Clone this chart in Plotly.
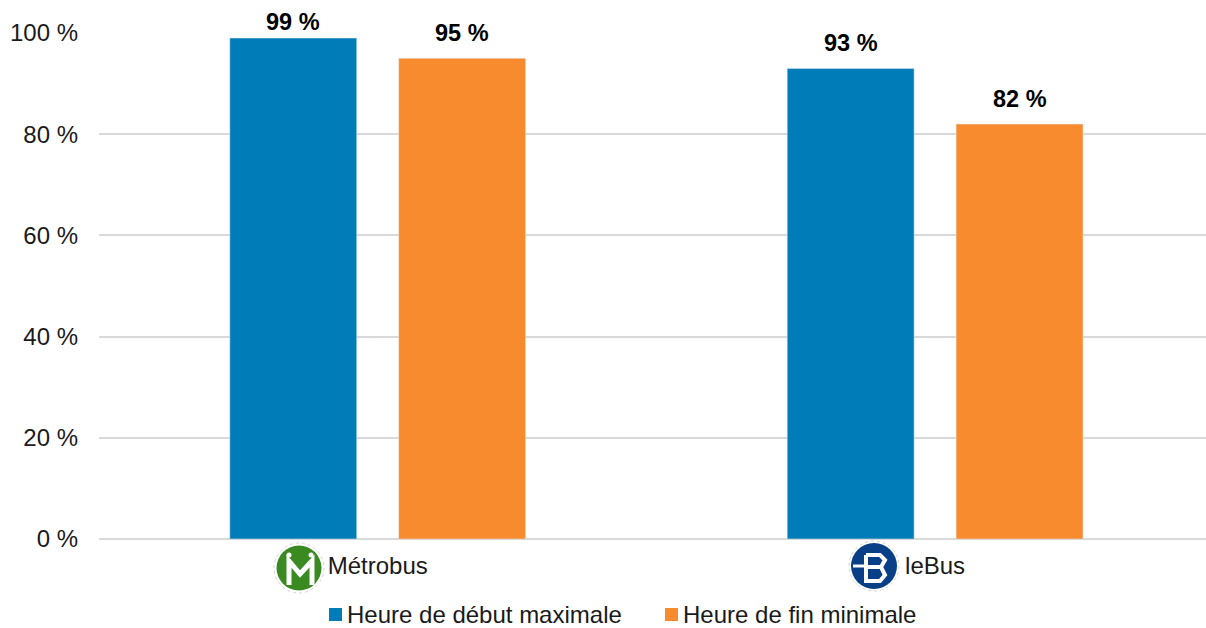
import plotly.graph_objects as go

# Chart values
categories = ["Métrobus", "leBus"]
series_names = ["Heure de début maximale", "Heure de fin minimale"]
debut_values = [99, 93]
fin_values = [95, 82]
tick_values = [0, 20, 40, 60, 80, 100]
tick_labels = ["0 %", "20 %", "40 %", "60 %", "80 %", "100 %"]

WIDTH, HEIGHT = 1206, 628
LEFT, TOP, BOTTOM = 99, 33, 89
BLUE, ORANGE = "#007DB8", "#F78B2E"
FONT = "Liberation Sans"
FONT_SIZE = 24
LEGEND_Y = 614


def py(y):
    # Paper fraction for a distance from the top of the page, relative to the plot area
    return 1 - (y - TOP) / (HEIGHT - TOP - BOTTOM)


def plot_x(x):
    return (x - LEFT) / (WIDTH - LEFT)


fig = go.Figure()
fig.add_bar(name=series_names[0], x=categories, y=debut_values, marker_color=BLUE)
fig.add_bar(name=series_names[1], x=categories, y=fin_values, marker_color=ORANGE)

# Value labels above the bars; the tallest one sits closer so it stays on the page
annotations = []
for series, shift in ((debut_values, -84.5), (fin_values, 84.5)):
    for cat, value in zip(categories, series):
        annotations.append(dict(
            x=cat, y=value, xref="x", yref="y", text=f"<b>{value} %</b>",
            showarrow=False, xshift=shift, yshift=25 if value < 99 else 16,
            yanchor="middle", font=dict(family=FONT, size=23.5, color="#000000"),
        ))


def circle(cx, cy, r, **kw):
    return dict(type="circle", xref="paper", yref="paper",
                x0=plot_x(cx - r), x1=plot_x(cx + r),
                y0=py(cy + r), y1=py(cy - r), **kw)


def stroke(points, color="white", width=4):
    path = "M" + " L".join(f"{plot_x(x):.5f},{py(y):.5f}" for x, y in points)
    return dict(type="path", xref="paper", yref="paper", path=path,
                line=dict(color=color, width=width))


# Network badges next to the category names
shapes = [
    circle(299, 568, 25, fillcolor="white", line=dict(color="#D4D4D4", width=1, dash="dot")),
    circle(299, 568, 22.5, fillcolor="#3A8A22", line=dict(width=0)),
    stroke([(289, 585), (289, 561), (300, 574), (312, 561), (312, 585)], width=5),
    circle(289, 555, 2.5, fillcolor="white", line=dict(width=0)),
    circle(311, 555, 2.5, fillcolor="white", line=dict(width=0)),
    circle(874, 566, 25, fillcolor="white", line=dict(color="#D4D4D4", width=1, dash="dot")),
    circle(874, 566, 23, fillcolor="#083F86", line=dict(width=0)),
    stroke([(853, 566), (866, 566)], width=3),
    stroke([(866, 555), (880, 555), (885, 560), (881, 567), (885, 575), (880, 581),
            (866, 581), (866, 555)], width=4),
    stroke([(866, 567), (881, 567)], width=4),
]

# Legend row under the axis: a colour square followed by the series name
for name, color, square_left in zip(series_names, (BLUE, ORANGE), (329, 665)):
    shapes.append(dict(
        type="rect", xref="paper", yref="paper",
        x0=plot_x(square_left), x1=plot_x(square_left + 13),
        y0=py(LEGEND_Y + 7), y1=py(LEGEND_Y - 6), fillcolor=color, line=dict(width=0),
    ))
    annotations.append(dict(
        x=plot_x(square_left + 16), y=py(LEGEND_Y), xref="paper", yref="paper",
        text=name, showarrow=False, xanchor="left", yanchor="middle",
        font=dict(family=FONT, size=FONT_SIZE, color="#1A1A1A"),
    ))

fig.update_layout(
    width=WIDTH,
    height=HEIGHT,
    autosize=False,
    margin=dict(l=LEFT, r=0, t=TOP, b=BOTTOM, pad=0),
    paper_bgcolor="white",
    plot_bgcolor="white",
    font=dict(family=FONT, size=FONT_SIZE, color="#1A1A1A"),
    barmode="group",
    bargap=0.394,
    bargroupgap=0.2485,
    annotations=annotations,
    shapes=shapes,
    showlegend=False,
    xaxis=dict(
        range=[-0.5, 1.486], showgrid=False, showline=False, ticks="",
        tickfont=dict(family=FONT, size=FONT_SIZE), ticklabelstandoff=10,
    ),
    yaxis=dict(
        range=[0, 100], tickmode="array", tickvals=tick_values, ticktext=tick_labels,
        showgrid=True, gridcolor="#D9D9D9", gridwidth=2, zeroline=True,
        zerolinecolor="#D9D9D9", zerolinewidth=2, showline=False, ticks="",
        ticklabelstandoff=20, tickfont=dict(family=FONT, size=FONT_SIZE),
    ),
)

fig.write_html("out.html")
